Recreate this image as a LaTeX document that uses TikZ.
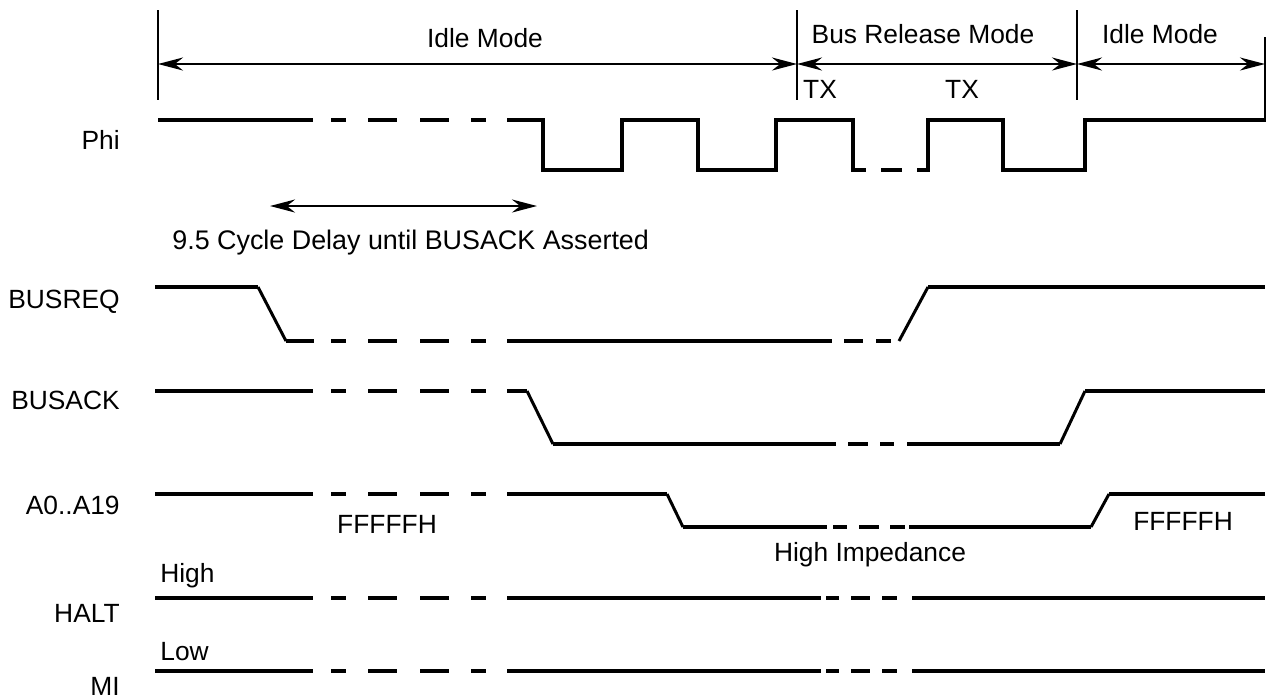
\documentclass[tikz,border=0pt]{standalone}
\usepackage{fontspec}
\setmainfont{Liberation Sans}
\usetikzlibrary{arrows.meta}

\begin{document}
\begin{tikzpicture}[x=0.02cm,y=-0.02cm,
  sig/.style={line width=2.3pt},
  edge/.style={line width=1.7pt},
  modeline/.style={line width=1.4pt},
  modearrow/.style={line width=1.4pt,{Stealth[length=0.5cm,width=0.26cm]}-{Stealth[length=0.5cm,width=0.26cm]}},
  lbl/.style={font=\fontsize{15}{18}\selectfont,inner sep=0pt}]
\useasboundingbox (0,0) rectangle (1270,698);

% mode boundaries
\draw[modeline] (158,10)--(158,100);
\draw[modeline] (797,10)--(797,100);
\draw[modeline] (1077,10)--(1077,100);
\draw[modeline] (1265,37)--(1265,122);
\coordinate (m0) at (158,64);
\coordinate (m1) at (797,64);
\coordinate (m2) at (1077,64);
\coordinate (m3) at (1265,64);
\draw[modearrow] (m0)--(m1);
\draw[modearrow] (m1)--(m2);
\draw[modearrow] (m2)--(m3);
\node[lbl] (idle1) at (485,38) {Idle Mode};
\node[lbl] (busrel) at (923,34) {Bus Release Mode};
\node[lbl] (idle2) at (1160,34) {Idle Mode};
\node[lbl] (tx1) at (820,89) {TX};
\node[lbl] (tx2) at (962,89) {TX};

% signal names
\node[lbl,anchor=east] (phi) at (120,140) {Phi};
\node[lbl,anchor=east] (busreq) at (120,302) {BUSREQ};
\node[lbl,anchor=east] (busack) at (120,400) {BUSACK};
\node[lbl,anchor=east] (addr) at (120,505) {A0..A19};
\node[lbl,anchor=east] (halt) at (120,613) {HALT};
\node[lbl,anchor=east] (mi) at (120,686) {MI};

% Phi
\draw[sig] (158,120)--(313,120);
\foreach \a/\b in {331/346,368/397,420/449,471/486} \draw[sig] (\a,120)--(\b,120);
\draw[sig] (507,120)--(543,120)--(543,170)--(622,170)--(622,120)--(698,120)--(698,170)--(776,170)--(776,120)--(853,120)--(853,170)--(866,170);
\draw[sig] (881,170)--(902,170);
\draw[sig] (917,170)--(928,170)--(928,120)--(1003,120)--(1003,170)--(1085,170)--(1085,120)--(1265,120);

% delay
\coordinate (d0) at (270,206);
\coordinate (d1) at (537,206);
\draw[modearrow] (d0)--(d1);
\node[lbl,anchor=west,font=\fontsize{15.3}{18}\selectfont] (delay) at (172,243) {9.5 Cycle Delay until BUSACK Asserted};

% BUSREQ
\draw[sig] (155,287)--(258,287);
\draw[edge] (258,287)--(286,341);
\draw[sig] (286,341)--(314,341);
\foreach \a/\b in {331/346,368/397,420/449,471/486} \draw[sig] (\a,341)--(\b,341);
\draw[sig] (507,341)--(832,341);
\foreach \a/\b in {844/863,876/891} \draw[sig] (\a,341)--(\b,341);
\draw[edge] (899,341)--(928,287);
\draw[sig] (928,287)--(1265,287);

% BUSACK
\draw[sig] (155,391)--(313,391);
\foreach \a/\b in {331/346,368/397,420/449,471/486} \draw[sig] (\a,391)--(\b,391);
\draw[sig] (507,391)--(527,391);
\draw[edge] (527,391)--(553,444);
\draw[sig] (553,444)--(836,444);
\foreach \a/\b in {848/868,880/894} \draw[sig] (\a,444)--(\b,444);
\draw[sig] (907,444)--(1060,444);
\draw[edge] (1060,444)--(1085,391);
\draw[sig] (1085,391)--(1265,391);

% A0..A19
\draw[sig] (155,494)--(313,494);
\foreach \a/\b in {331/346,368/397,420/449,471/486} \draw[sig] (\a,494)--(\b,494);
\draw[sig] (507,494)--(667,494);
\draw[edge] (667,494)--(683,527);
\draw[sig] (683,527)--(827,527);
\foreach \a/\b in {833/847,859/879,890/905} \draw[sig] (\a,527)--(\b,527);
\draw[sig] (909,527)--(1091,527);
\draw[edge] (1091,527)--(1109,494);
\draw[sig] (1109,494)--(1265,494);
\node[lbl] (ff1) at (387,524) {FFFFFH};
\node[lbl] (hiz) at (870,555) {High Impedance};
\node[lbl] (ff2) at (1183,521) {FFFFFH};

% HALT and MI
\foreach \y in {598,671} {
  \draw[sig] (155,\y)--(313,\y);
  \foreach \a/\b in {331/346,368/397,420/449,471/486} \draw[sig] (\a,\y)--(\b,\y);
  \draw[sig] (507,\y)--(821,\y);
  \foreach \a/\b in {826/839,851/870,882/897} \draw[sig] (\a,\y)--(\b,\y);
  \draw[sig] (912,\y)--(1265,\y);
}
\node[lbl,anchor=west] (high) at (160,576) {High};
\node[lbl,anchor=west] (low) at (160,652) {Low};
\end{tikzpicture}
\end{document}
